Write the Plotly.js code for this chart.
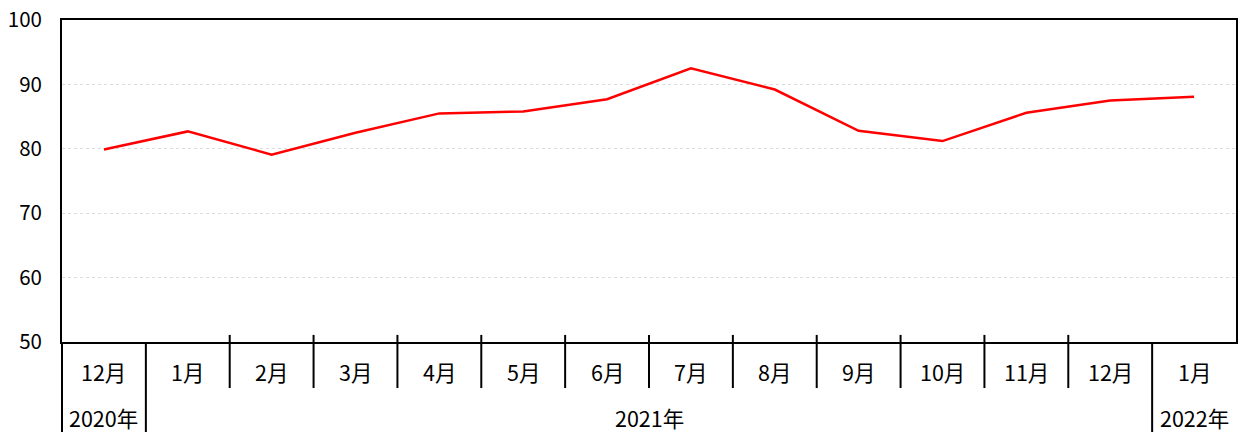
<!DOCTYPE html>
<html>
<head>
<meta charset="utf-8">
<script src="https://cdn.plot.ly/plotly-3.0.1.min.js"></script>
<style>html,body{margin:0;padding:0;background:#fff;}#chart{width:1239px;height:432px;}</style>
</head>
<body>
<div id="chart"></div>
<script>
var months = ["12月","1月","2月","3月","4月","5月","6月","7月","8月","9月","10月","11月","12月","1月"];
var years  = ["2020年","2021年","2021年","2021年","2021年","2021年","2021年","2021年","2021年","2021年","2021年","2021年","2021年","2022年"];
var values = [79.9, 82.7, 79.1, 82.5, 85.5, 85.8, 87.7, 92.5, 89.2, 82.8, 81.2, 85.6, 87.5, 88.1];
var yTicks = [50, 60, 70, 80, 90, 100];

var FONT = "Noto Sans CJK JP, sans-serif";
var idx = months.map(function(_, i){ return i; });

var shapes = [];
var annotations = [];
// month labels
months.forEach(function(m, i){
  annotations.push({x: i, y: -0.093, xref: 'x', yref: 'paper', text: m, showarrow: false,
    xanchor: 'center', yanchor: 'middle', font: {family: FONT, size: 21.5, color: '#000'}});
});
// boundaries
for (var i = 0; i < months.length - 1; i++) {
  var yearChange = years[i] !== years[i+1];
  shapes.push({type: 'line', xref: 'x', yref: 'paper', x0: i + 0.5, x1: i + 0.5,
    y0: yearChange ? 0 : 0.022, y1: yearChange ? -0.3 : -0.143,
    line: {color: '#000', width: 2}});
}
// left border extension
shapes.push({type: 'line', xref: 'paper', yref: 'paper', x0: 0, x1: 0, y0: 0, y1: -0.3,
  line: {color: '#000', width: 2}});
// year labels
var start = 0;
for (var j = 1; j <= years.length; j++) {
  if (j === years.length || years[j] !== years[start]) {
    annotations.push({x: (start + j - 1) / 2, y: -0.236, xref: 'x', yref: 'paper', text: years[start],
      showarrow: false, xanchor: 'center', yanchor: 'middle', font: {family: FONT, size: 21.5, color: '#000'}});
    start = j;
  }
}

var trace = {x: idx, y: values, type: 'scatter', mode: 'lines',
  line: {color: '#ff0000', width: 2.5}, hoverinfo: 'skip'};

var layout = {
  width: 1239, height: 432,
  margin: {l: 62, r: 3, t: 20, b: 90},
  paper_bgcolor: '#fff', plot_bgcolor: '#fff',
  showlegend: false,
  xaxis: {range: [-0.5, months.length - 0.5], showticklabels: false, ticks: '', showgrid: false,
    zeroline: false, showline: true, mirror: true, linecolor: '#000', linewidth: 2, fixedrange: true},
  yaxis: {range: [50, 100], tickvals: yTicks, ticktext: yTicks.map(String), ticks: '',
    ticklabelstandoff: 14, showgrid: true, gridcolor: '#dcdcdc', griddash: 'dot', gridwidth: 1,
    zeroline: false, showline: true, mirror: true, linecolor: '#000', linewidth: 2,
    tickfont: {family: FONT, size: 20.5, color: '#000'}, fixedrange: true},
  shapes: shapes,
  annotations: annotations
};
Plotly.newPlot('chart', [trace], layout, {displayModeBar: false, staticPlot: true});
</script>
</body>
</html>
